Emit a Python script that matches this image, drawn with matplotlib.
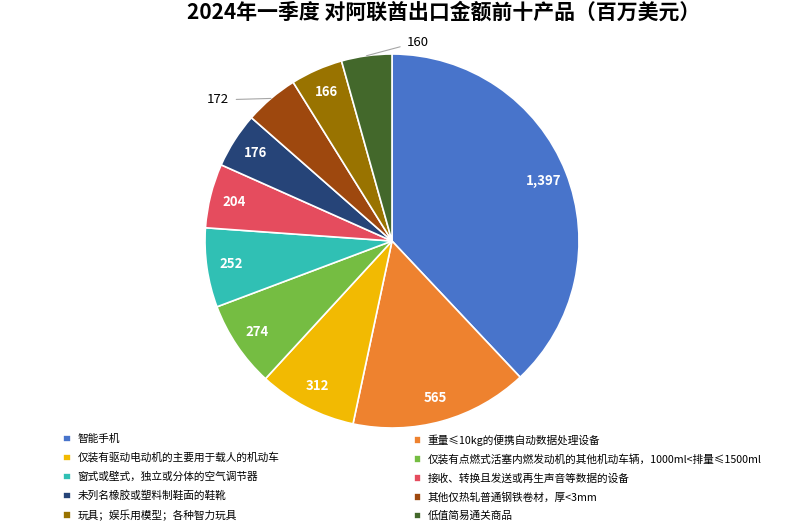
import numpy as np
import matplotlib
matplotlib.use("Agg")
import matplotlib.pyplot as plt

plt.rcParams['font.family'] = ['Noto Sans CJK SC', 'DejaVu Sans']

products = [
    "智能手机",
    "重量≤10kg的便携自动数据处理设备",
    "仅装有驱动电动机的主要用于载人的机动车",
    "仅装有点燃式活塞内燃发动机的其他机动车辆，1000ml<排量≤1500ml",
    "窗式或壁式，独立或分体的空气调节器",
    "接收、转换且发送或再生声音等数据的设备",
    "未列名橡胶或塑料制鞋面的鞋靴",
    "其他仅热轧普通钢铁卷材，厚<3mm",
    "玩具；娱乐用模型；各种智力玩具",
    "低值简易通关商品",
]
values = [1397, 565, 312, 274, 252, 204, 176, 172, 166, 160]
colors = ["#4874CB", "#EE822F", "#F2BA02", "#75BD42", "#30C0B4",
          "#E54C5E", "#264478", "#9E480E", "#997300", "#43682B"]
outside = {7, 9}

fig = plt.figure(figsize=(8, 5.28), dpi=100)
fig.suptitle("2024年一季度 对阿联酋出口金额前十产品（百万美元）",
             fontsize=15, fontweight='bold', x=0.555, y=0.997)

cx, cy, r = 392, 528 - 241, 187
ax = fig.add_axes([(cx - r) / 800, (cy - r) / 528, 2 * r / 800, 2 * r / 528])
wedges, _ = ax.pie(values, colors=colors, startangle=90, counterclock=False,
                   wedgeprops=dict(edgecolor='white', linewidth=1.2))
ax.set_xlim(-1, 1)
ax.set_ylim(-1, 1)
ax.set_aspect('equal')

for i, w in enumerate(wedges):
    ang = np.deg2rad((w.theta1 + w.theta2) / 2)
    txt = f"{values[i]:,}"
    if i in outside:
        x0, y0 = np.cos(ang), np.sin(ang)
        if i == 7:
            tx, ty, ha = -0.87, y0 - 0.008, 'right'
        else:
            tx, ty, ha = 0.08, 1.064, 'left'
        ax.annotate(txt, xy=(x0, y0), xytext=(tx, ty),
                    ha=ha, va='center', fontsize=9.5,
                    arrowprops=dict(arrowstyle='-', color='#a6a6a6', lw=0.8,
                                    shrinkA=3, shrinkB=0))
    else:
        d = 0.87
        ax.text(d * np.cos(ang), d * np.sin(ang), txt, ha='center', va='center',
                color='white', fontsize=9.5, fontweight='bold')

legend_style = dict(loc='upper left', frameon=False, fontsize=7.7,
                    handlelength=0.7, handleheight=0.7, handletextpad=0.6,
                    labelspacing=0.78, borderaxespad=0)
left = [0, 2, 4, 6, 8]
right = [1, 3, 5, 7, 9]
fig.legend([wedges[i] for i in left], [products[i] for i in left],
           bbox_to_anchor=(0.074, 0.186), **legend_style)
fig.legend([wedges[i] for i in right], [products[i] for i in right],
           bbox_to_anchor=(0.512, 0.186), **legend_style)

fig.savefig("out.png", dpi=100)
